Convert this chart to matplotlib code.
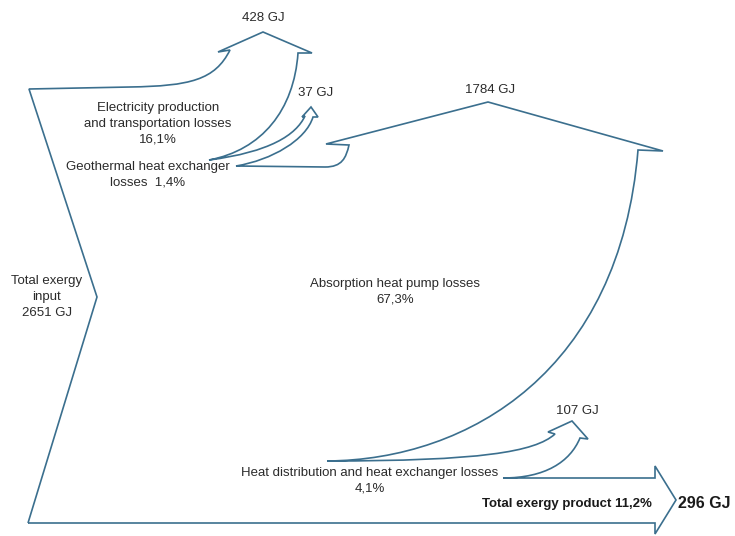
import matplotlib.pyplot as plt
from matplotlib.path import Path
from matplotlib.patches import PathPatch

plt.rcParams['font.family'] = ['Liberation Sans', 'DejaVu Sans']

# Exergy flows (GJ) and shares
flow_names = ['Total exergy input', 'Electricity production and transportation losses',
              'Geothermal heat exchanger losses', 'Absorption heat pump losses',
              'Heat distribution and heat exchanger losses', 'Total exergy product']
flow_gj = [2651, 428, 37, 1784, 107, 296]
flow_pct = ['', '16,1%', '1,4%', '67,3%', '4,1%', '11,2%']

LINE = '#3b6f8e'
TEXT = '#2b2b2b'

# outline of the Grassmann diagram (image pixel coords, y down)
M, L, C = Path.MOVETO, Path.LINETO, Path.CURVE4
outline = [
    (M, (28, 523)),
    # product arrow
    (L, (655, 523)), (L, (655, 534)), (L, (676, 500)), (L, (655, 466)), (L, (655, 478)),
    (L, (503, 478)),
    # heat distribution losses arrow
    (C, (545, 478)), (C, (570, 462)), (C, (580, 438)),
    (L, (588, 439)), (L, (572, 421)), (L, (548, 432)), (L, (555, 434)),
    (C, (535, 452)), (C, (480, 461)), (C, (327, 461)),
    # absorption heat pump losses arrow
    (C, (470, 460)), (C, (620, 370)), (C, (638, 150)),
    (L, (663, 151)), (L, (488, 102)), (L, (326, 144)), (L, (349, 145)),
    (C, (346, 158)), (C, (342, 167)), (C, (325, 167)),
    (L, (236, 166)),
    # geothermal heat exchanger losses arrow
    (C, (272, 160)), (C, (306, 140)), (C, (313, 117)),
    (L, (318, 117)), (L, (311, 107)), (L, (302, 117)), (L, (305, 116)),
    (C, (296, 135)), (C, (270, 152)), (C, (209, 160)),
    # electricity losses arrow
    (C, (262, 150)), (C, (294, 110)), (C, (298, 53)),
    (L, (312, 53)), (L, (263, 32)), (L, (218, 52)), (L, (230, 50)),
    (C, (215, 80)), (C, (190, 86)), (C, (130, 87)),
    (L, (29, 89)),
    # input chevron
    (L, (97, 297)), (L, (28, 523)),
]
codes = [c for c, _ in outline]
verts = [v for _, v in outline]

fig = plt.figure(figsize=(7.35, 5.36), dpi=100)
ax = fig.add_axes([0, 0, 1, 1])
ax.set_xlim(0, 735)
ax.set_ylim(536, 0)
ax.axis('off')

ax.add_patch(PathPatch(Path(verts, codes), facecolor='none', edgecolor=LINE, lw=1.2,
                       joinstyle='miter'))

fs = 9.5
kw = dict(ha='center', va='center', color=TEXT, fontsize=fs, linespacing=1.4)

ax.text(47, 297, 'Total exergy\ninput\n%d GJ' % flow_gj[0], **kw)
ax.text(263, 18, '%d GJ' % flow_gj[1], **kw)
ax.text(158, 124, 'Electricity production\nand transportation losses\n' + flow_pct[1], **kw)
ax.text(316, 93, '%d GJ' % flow_gj[2], **kw)
ax.text(148, 175, 'Geothermal heat exchanger\nlosses  ' + flow_pct[2], **kw)
ax.text(490, 90, '%d GJ' % flow_gj[3], **kw)
ax.text(395, 292, 'Absorption heat pump losses\n' + flow_pct[3], **kw)
ax.text(577, 411, '%d GJ' % flow_gj[4], **kw)
ax.text(370, 481, flow_names[4] + '\n' + flow_pct[4], **kw)
ax.text(567, 504, 'Total exergy product ' + flow_pct[5], ha='center', va='center',
        color='#1a1a1a', fontsize=fs, fontweight='bold')
ax.text(704, 504, '%d GJ' % flow_gj[5], ha='center', va='center',
        color='#1a1a1a', fontsize=11.5, fontweight='bold')

fig.savefig('out.png', dpi=100, facecolor='white')
